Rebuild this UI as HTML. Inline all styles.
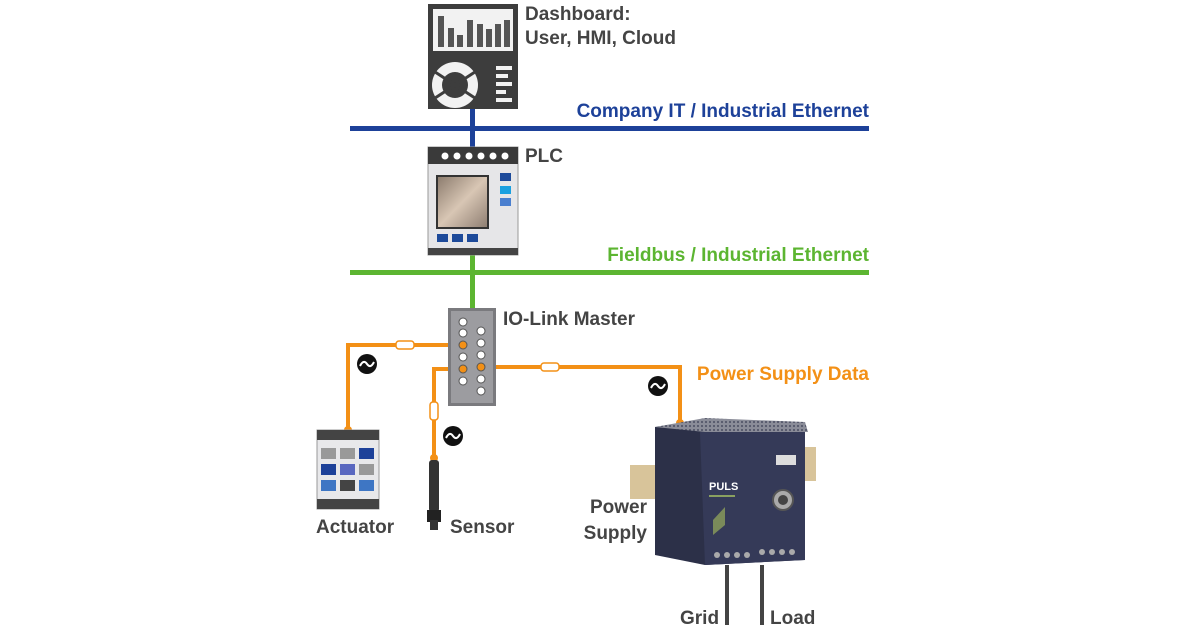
<!DOCTYPE html>
<html><head><meta charset="utf-8"><style>
html,body{margin:0;padding:0;background:#fff;}
svg{display:block;}
text{font-family:"Liberation Sans",sans-serif;font-weight:bold;}
</style></head><body>
<svg width="1200" height="630" viewBox="0 0 1200 630" xmlns="http://www.w3.org/2000/svg">
<defs>
<linearGradient id="scr" x1="0" y1="0" x2="1" y2="1">
<stop offset="0" stop-color="#8a7a6c"/><stop offset="0.5" stop-color="#d8c6b4"/><stop offset="1" stop-color="#8c7c70"/></linearGradient>
<pattern id="perf" width="4" height="4" patternUnits="userSpaceOnUse"><rect width="4" height="4" fill="#8a8c98"/><circle cx="2" cy="2" r="1" fill="#4a4e62"/></pattern>
</defs>

<!-- network lines -->
<rect x="350" y="126" width="519" height="5" fill="#1d4199"/>
<rect x="470" y="108" width="5" height="40" fill="#1d4199"/>
<rect x="350" y="270" width="519" height="5" fill="#5cb531"/>
<rect x="470" y="254" width="5" height="56" fill="#5cb531"/>

<!-- Dashboard -->
<rect x="428" y="4" width="90" height="105" fill="#3d3d3d"/>
<rect x="433" y="9" width="80" height="42" fill="#f2f2f2"/>
<g fill="#555">
<rect x="438" y="16" width="6" height="31"/><rect x="448" y="28" width="6" height="19"/><rect x="457" y="35" width="6" height="12"/>
<rect x="467" y="20" width="6" height="27"/><rect x="477" y="24" width="6" height="23"/><rect x="486" y="29" width="6" height="18"/>
<rect x="495" y="24" width="6" height="23"/><rect x="504" y="20" width="6" height="27"/></g>
<circle cx="455" cy="85" r="23" fill="#f2f2f2"/>
<circle cx="455" cy="85" r="13" fill="#3d3d3d"/>
<g stroke="#3d3d3d" stroke-width="3"><line x1="432" y1="70" x2="478" y2="100"/><line x1="478" y1="70" x2="432" y2="100"/></g>
<g fill="#f2f2f2"><rect x="496" y="66" width="16" height="4"/><rect x="496" y="74" width="12" height="4"/><rect x="496" y="82" width="16" height="4"/><rect x="496" y="90" width="10" height="4"/><rect x="496" y="98" width="16" height="4"/></g>

<!-- PLC -->
<rect x="428" y="147" width="90" height="108" fill="#e6e6e8" stroke="#999" stroke-width="1"/>
<rect x="428" y="147" width="90" height="17" fill="#3a3a3a"/>
<g fill="#fff"><circle cx="445" cy="156" r="3.5"/><circle cx="457" cy="156" r="3.5"/><circle cx="469" cy="156" r="3.5"/><circle cx="481" cy="156" r="3.5"/><circle cx="493" cy="156" r="3.5"/><circle cx="505" cy="156" r="3.5"/></g>
<rect x="437" y="176" width="51" height="52" fill="url(#scr)" stroke="#333" stroke-width="2"/>
<rect x="500" y="173" width="11" height="8" fill="#1d4a9a"/><rect x="500" y="186" width="11" height="8" fill="#1aa0e0"/><rect x="500" y="198" width="11" height="8" fill="#4a7fcf"/>
<rect x="437" y="234" width="11" height="8" fill="#1d4a9a"/><rect x="452" y="234" width="11" height="8" fill="#1d4a9a"/><rect x="467" y="234" width="11" height="8" fill="#1d4a9a"/>
<rect x="428" y="248" width="90" height="7" fill="#444"/>

<!-- orange lines -->
<g stroke="#f39016" stroke-width="4" fill="none">
<polyline points="463,345 348,345 348,430"/>
<polyline points="481,367 680,367 680,423"/>
<polyline points="463,369 434,369 434,458"/>
</g>

<!-- IO-Link master -->
<rect x="448" y="308" width="48" height="98" fill="#7a7a7e"/>
<rect x="451" y="311" width="42" height="92" fill="#9c9ca0"/>
<g fill="#fff" stroke="#555" stroke-width="1">
<circle cx="463" cy="322" r="4"/><circle cx="463" cy="333" r="4"/><circle cx="463" cy="357" r="4"/><circle cx="463" cy="381" r="4"/>
<circle cx="481" cy="331" r="4"/><circle cx="481" cy="343" r="4"/><circle cx="481" cy="355" r="4"/><circle cx="481" cy="379" r="4"/><circle cx="481" cy="391" r="4"/></g>
<g fill="#f39016" stroke="#555" stroke-width="1"><circle cx="463" cy="345" r="4"/><circle cx="463" cy="369" r="4"/><circle cx="481" cy="367" r="4"/></g>

<!-- arrow markers -->
<g fill="#fff" stroke="#f39016" stroke-width="1.5">
<rect x="396" y="341" width="18" height="8" rx="3"/><rect x="541" y="363" width="18" height="8" rx="3"/><rect x="430" y="402" width="8" height="18" rx="3"/></g>
<g fill="#f39016"><circle cx="348" cy="430" r="4"/><circle cx="680" cy="423" r="4"/><circle cx="434" cy="458" r="4"/></g>

<!-- wave circles -->
<g><circle cx="367" cy="364" r="10" fill="#111"/><circle cx="453" cy="436" r="10" fill="#111"/><circle cx="658" cy="386" r="10" fill="#111"/></g>
<g stroke="#fff" stroke-width="2" fill="none">
<path d="M360 366 q3.5 -7 7 -2 q3.5 5 7 -2"/><path d="M446 438 q3.5 -7 7 -2 q3.5 5 7 -2"/><path d="M651 388 q3.5 -7 7 -2 q3.5 5 7 -2"/></g>

<!-- Actuator -->
<rect x="317" y="430" width="62" height="79" fill="#e8e8ea" stroke="#999"/>
<rect x="317" y="430" width="62" height="10" fill="#444"/><rect x="317" y="499" width="62" height="10" fill="#444"/>
<rect x="321" y="448" width="15" height="11" fill="#999"/><rect x="340" y="448" width="15" height="11" fill="#999"/><rect x="359" y="448" width="15" height="11" fill="#1d4199"/>
<rect x="321" y="464" width="15" height="11" fill="#1d4199"/><rect x="340" y="464" width="15" height="11" fill="#5a68c0"/><rect x="359" y="464" width="15" height="11" fill="#999"/>
<rect x="321" y="480" width="15" height="11" fill="#3e76c4"/><rect x="340" y="480" width="15" height="11" fill="#444"/><rect x="359" y="480" width="15" height="11" fill="#3e76c4"/>

<!-- Sensor -->
<rect x="429" y="460" width="10" height="52" rx="3" fill="#333"/>
<rect x="427" y="510" width="14" height="12" fill="#222"/><rect x="430" y="520" width="8" height="10" fill="#333"/>

<!-- Power supply -->
<rect x="630" y="465" width="28" height="34" fill="#d8c49a"/>
<rect x="802" y="447" width="14" height="34" fill="#d8c49a"/>
<polygon points="655,427 705,420 805,427 805,560 705,565 655,555" fill="#2c3048"/>
<polygon points="655,427 705,418 805,422 808,432 705,432" fill="url(#perf)"/>
<polygon points="700,432 805,432 805,560 705,565" fill="#353a58"/>
<rect x="776" y="455" width="20" height="10" fill="#ddd"/>
<text x="709" y="490" font-size="11" fill="#fff" font-weight="bold">PULS</text>
<rect x="709" y="495" width="26" height="2" fill="#8aa060"/>
<polygon points="713,520 725,507 725,525 713,535" fill="#7a8a5a"/>
<circle cx="783" cy="500" r="10" fill="#aaa" stroke="#555" stroke-width="2"/><circle cx="783" cy="500" r="5" fill="#444"/>
<g fill="#aaa"><circle cx="717" cy="555" r="3"/><circle cx="727" cy="555" r="3"/><circle cx="737" cy="555" r="3"/><circle cx="747" cy="555" r="3"/>
<circle cx="762" cy="552" r="3"/><circle cx="772" cy="552" r="3"/><circle cx="782" cy="552" r="3"/><circle cx="792" cy="552" r="3"/></g>
<rect x="725" y="565" width="4" height="60" fill="#444"/><rect x="760" y="565" width="4" height="60" fill="#444"/>

<!-- labels -->
<g fill="#444" font-size="19">
<text x="525" y="20">Dashboard:</text>
<text x="525" y="44">User, HMI, Cloud</text>
<text x="525" y="162">PLC</text>
<text x="503" y="325">IO-Link Master</text>
<text x="316" y="533">Actuator</text>
<text x="450" y="533">Sensor</text>
<text x="647" y="513" text-anchor="end">Power</text>
<text x="647" y="539" text-anchor="end">Supply</text>
<text x="680" y="624">Grid</text>
<text x="770" y="624">Load</text>
</g>
<text x="869" y="117" font-size="19" fill="#1d4199" text-anchor="end">Company IT / Industrial Ethernet</text>
<text x="869" y="261" font-size="19" fill="#5cb531" text-anchor="end">Fieldbus / Industrial Ethernet</text>
<text x="869" y="380" font-size="19" fill="#f39016" text-anchor="end">Power Supply Data</text>
</svg>
</body></html>
